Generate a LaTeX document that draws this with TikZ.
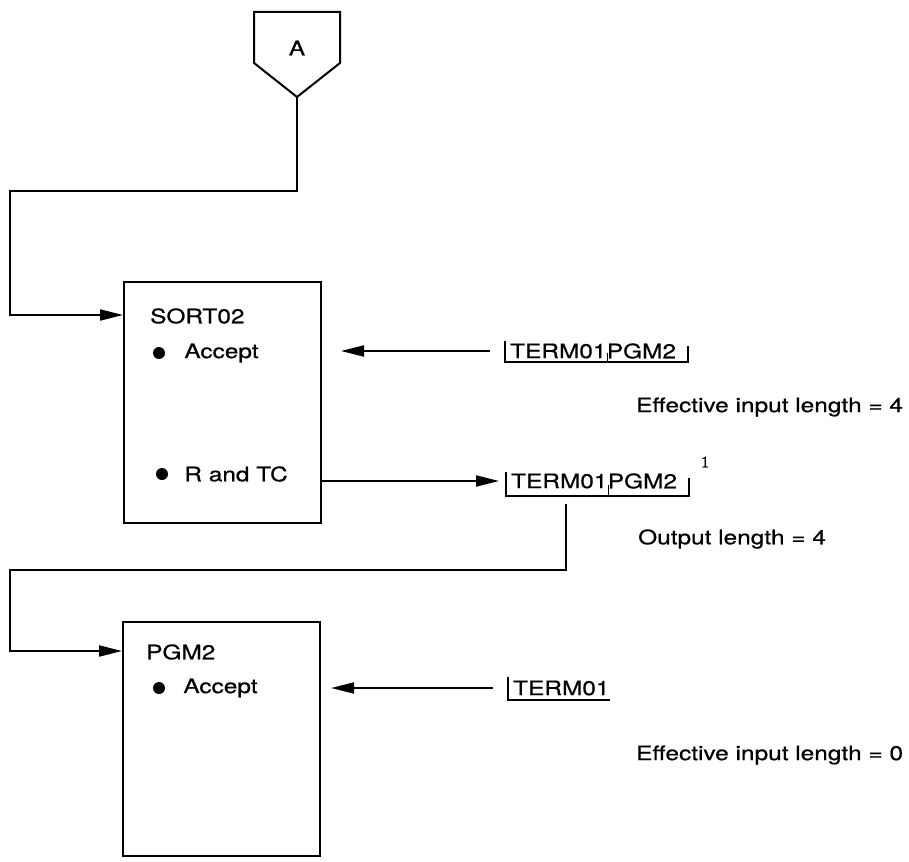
\documentclass[tikz,border=0pt]{standalone}
\usepackage{fontspec}
\setmainfont{TeX Gyre Heros}[FakeStretch=1.22,FakeBold=0.6]
\newfontfamily\notefont{Liberation Serif}[FakeBold=0.8]
\usetikzlibrary{arrows.meta,positioning,calc}
\tikzset{
  base/.style={font=\fontsize{20}{24}\selectfont,inner sep=0pt,anchor=west},
  program/.style={draw,line width=2pt,minimum width=197pt,inner sep=0pt},
  dot/.style={circle,fill,inner sep=0pt,minimum size=12pt},
  note/.style={font=\notefont\fontsize{16}{16}\selectfont,inner sep=0pt},
  flow/.style={-{Triangle[length=23pt,width=11pt]},line width=2pt},
  link/.style={line width=2pt},
  field/.style={line width=1.6pt}
}
\begin{document}
\begin{tikzpicture}[x=1pt,y=-1pt]
\useasboundingbox (0,0) rectangle (909,861);

% off-page connector
\node[base,anchor=center] (conA) at (297,48) {A};
\draw[link] (254,12) -- (340,12) -- (340,63) -- (297,97) -- (254,63) -- cycle;
\coordinate (tipA) at (297,97);
\coordinate (bendA) at (10,191);

% programs
\node[program,minimum height=241pt] (sort) at (222.5,402.5) {};
\node[program,minimum height=234pt] (pgm) at (221.5,739) {};
\coordinate (sortin) at ($(sort.north west)+(0,34)$);
\coordinate (pgmin) at ($(pgm.north west)+(0,30)$);

\node[base] (sorttitle) at (150,316) {SORT02};
\node[dot] (sortdot1) at (159,353) {};
\node[base,right=19pt of sortdot1] (sortaccept) {Accept};
\node[dot] (sortdot2) at (162,474) {};
\node[base,right=16pt of sortdot2] (sortrtc) {R and TC};

\node[base] (pgmtitle) at (146,652) {PGM2};
\node[dot] (pgmdot) at (159,688) {};
\node[base,right=18pt of pgmdot] (pgmaccept) {Accept};

% message fields
\node[base] (in1a) at (510,351) {TERM01};
\node[base,right=0pt of in1a] (in1b) {PGM2};
\draw[field] ($(in1a.west)+(-5,-10)$) |- ($(in1b.east)+(12,11)$) -- ++(0,-16);
\draw[field] ($(in1a.east)+(1,11)$) -- ++(0,-9);

\node[base] (out1a) at (511,481) {TERM01};
\node[base,right=0pt of out1a] (out1b) {PGM2};
\draw[field] ($(out1a.west)+(-5,-9)$) |- ($(out1b.east)+(12,15)$) -- ++(0,-18);
\draw[field] ($(out1a.east)+(1,15)$) -- ++(0,-11);
\node[note] (fn) at (705,462) {1};

\node[base] (in2) at (513,688) {TERM01};
\draw[field] ($(in2.west)+(-5,-11)$) |- ($(in2.east)+(0,12)$);

\node[base] (eff1) at (636,407) {Effective input length = 4};
\node[base] (outlen) at (638,539) {Output length = 4};
\node[base] (eff2) at (636,755) {Effective input length = 0};

% connectors
\draw[flow] (tipA) |- (bendA) |- (sortin);
\draw[flow,shorten <=20pt,shorten >=19pt] (in1a.west) -- (sort.east |- in1a.west);
\draw[flow,shorten >=12pt] (sort.east |- out1a.west) -- (out1a.west);
\coordinate (drop) at (566,504);
\coordinate (bendB) at (10,570);
\draw[flow] (drop) |- (bendB) |- (pgmin);
\draw[flow,shorten <=20pt,shorten >=10pt] (in2.west) -- (pgm.east |- in2.west);
\end{tikzpicture}
\end{document}
